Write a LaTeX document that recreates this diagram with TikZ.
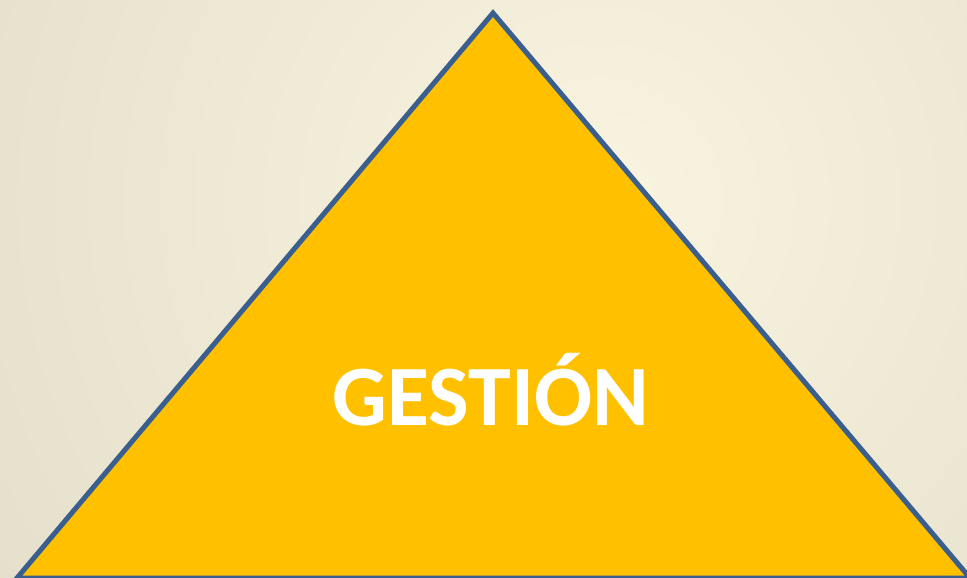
\documentclass[tikz,border=0pt]{standalone}
\usepackage{fontspec}
\setmainfont{Carlito}
\definecolor{bgin}{HTML}{F8F4E0}
\definecolor{bgout}{HTML}{D8D2BE}
\definecolor{gold}{HTML}{FFC000}
\definecolor{edge}{HTML}{3A5F8F}
\tikzset{pyr/.style={fill=gold,draw=edge,line width=5pt,line join=miter}}
\begin{document}
\begin{tikzpicture}[x=1pt,y=-1pt]
\useasboundingbox (0,0) rectangle (967,578);
\begin{scope}
\clip (0,0) rectangle (967,578);
\shade[inner color=bgin,outer color=bgout] (-600,-1000) rectangle (1800,1400);
\draw[pyr] (493,13) -- (970,578) -- (17,578) -- cycle;
\end{scope}
\coordinate (apex) at (493,13);
\node[anchor=base,text=white,font=\bfseries\fontsize{86}{94}\selectfont,inner sep=0pt] (lbl) at (491,425) {GESTIÓN};
\end{tikzpicture}
\end{document}
